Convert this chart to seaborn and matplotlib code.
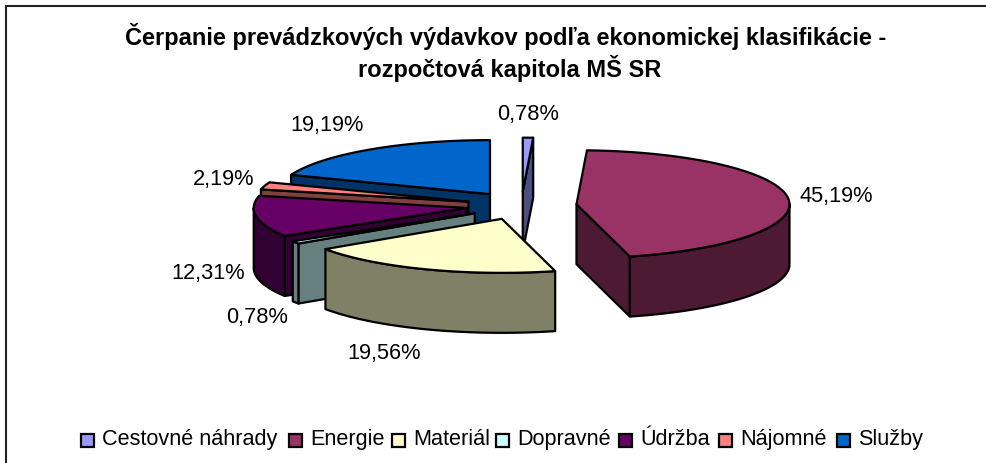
import numpy as np
import seaborn as sns
import matplotlib.pyplot as plt
from matplotlib.patches import Polygon, Rectangle

categories = ["Cestovné náhrady", "Energie", "Materiál", "Dopravné", "Údržba", "Nájomné", "Služby"]
shares = [0.78, 45.19, 19.56, 0.78, 12.31, 2.19, 19.19]
share_labels = ["0,78%", "45,19%", "19,56%", "0,78%", "12,31%", "2,19%", "19,19%"]
title_lines = ["Čerpanie prevádzkových výdavkov podľa ekonomickej klasifikácie -",
               "rozpočtová kapitola MŠ SR"]
hex_colors = ["#9999FF", "#993366", "#FFFFCC", "#CCFFFF", "#660066", "#FF8080", "#0066CC"]

# pie geometry in pixels, the 3d look is just a squashed ellipse plus a drop
CX, CY = 521.4, 205.7
RX, RY = 213, 54
DEPTH = 60
EXPLODE = 0.26

# back to front, so nearer slices cover the ones behind
draw_order = [6, 5, 4, 3, 0, 2, 1]

# where the data labels sit (centre of text, pixels)
label_pos = [(528, 114.5), (836, 196.5), (384, 353.5), (257, 318), (208, 273), (224, 180), (327, 125)]

sns.set_theme(style="white")
plt.rcParams["font.family"] = ["Liberation Sans", "DejaVu Sans"]
palette = sns.color_palette(hex_colors)

fig = plt.figure(figsize=(9.87, 4.63), dpi=100)
ax = fig.add_axes([0, 0, 1, 1])
ax.set_xlim(0, 987)
ax.set_ylim(463, 0)
ax.axis("off")

# the frame is cut off at right and bottom in the original
ax.plot([5.5, 5.5, 987], [463, 5.5, 5.5], color="#222222", lw=1.5, solid_joinstyle="miter")


def dark(c):
    return tuple(v * 0.5 for v in c)


def rim(x0, y0, a, b, n=60):
    t = np.radians(np.linspace(a, b, n))
    return np.column_stack([x0 + RX * np.sin(t), y0 - RY * np.cos(t)])


edges = np.concatenate([[0], np.cumsum(shares)]) / np.sum(shares) * 360
for i in draw_order:
    a, b = edges[i], edges[i + 1]
    mid = np.radians((a + b) / 2)
    x0 = CX + EXPLODE * RX * np.sin(mid)
    y0 = CY - EXPLODE * RY * np.cos(mid)
    drop = np.array([0, DEPTH])
    apex = np.array([x0, y0])
    style = dict(edgecolor="black", lw=1.6, joinstyle="round", facecolor=dark(palette[i]))

    # radial walls, only the ones facing us
    if 180 < a < 360:
        p = rim(x0, y0, a, a, 1)[0]
        ax.add_patch(Polygon([apex, p, p + drop, apex + drop], **style))
    if 0 < b < 180:
        p = rim(x0, y0, b, b, 1)[0]
        ax.add_patch(Polygon([apex, p, p + drop, apex + drop], **style))

    # outer wall for the front half of the ellipse
    lo, hi = max(a, 90), min(b, 270)
    if lo < hi:
        arc = rim(x0, y0, lo, hi)
        ax.add_patch(Polygon(np.vstack([arc, (arc + drop)[::-1]]), **style))

    top = np.vstack([apex, rim(x0, y0, a, b)])
    ax.add_patch(Polygon(top, facecolor=palette[i], edgecolor="black", lw=1.6, joinstyle="round"))

for txt, (x, y) in zip(share_labels, label_pos):
    ax.text(x, y, txt, fontsize=15.7, ha="center", va="center", color="black")

for line, x, y in zip(title_lines, [505.5, 510], [36, 68]):
    ax.text(x, y, line, fontsize=17, fontweight="bold", ha="center", va="center", color="black")

# legend is laid out by hand to keep the spacing of the original
legend_x = [81, 289, 392, 496, 619, 719, 837]
for name, x, c in zip(categories, legend_x, palette):
    ax.add_patch(Rectangle((x, 433.5), 13, 13, facecolor=c, edgecolor="black", lw=1.6))
    ax.text(x + 21, 439.5, name, fontsize=15.6, ha="left", va="center", color="black")

fig.savefig("out.png", dpi=100)
